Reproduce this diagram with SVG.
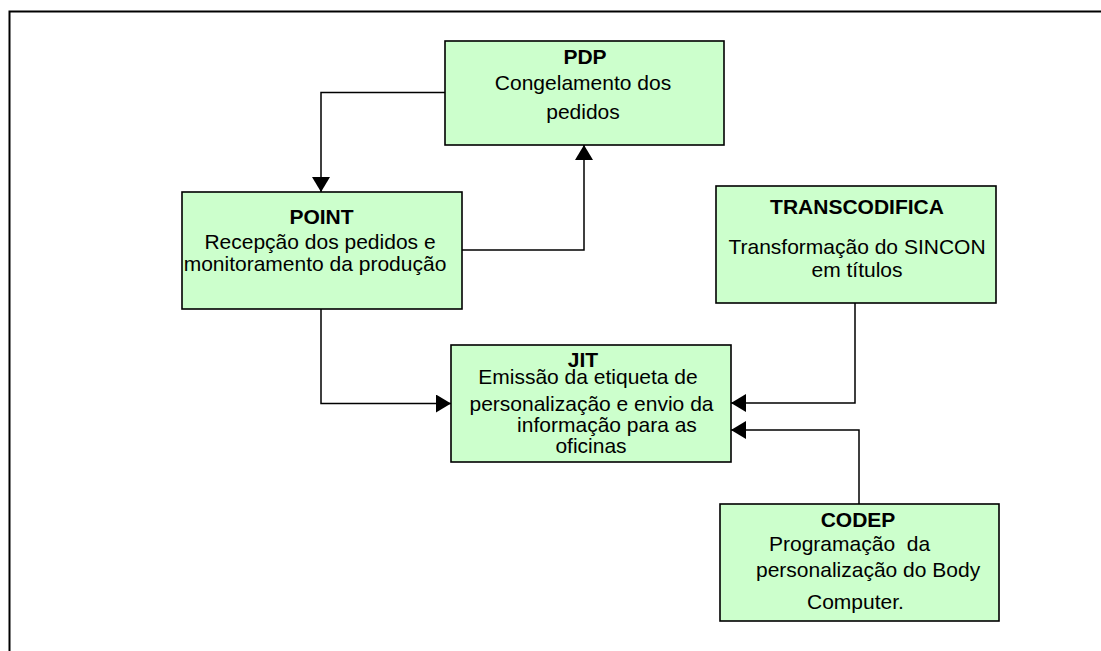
<svg xmlns="http://www.w3.org/2000/svg" width="1101" height="651" viewBox="0 0 1101 651">
  <style>
    .box { fill: #ccffcc; stroke: #000; stroke-width: 1.6; }
    .t { font-family: "Liberation Sans", Arial, sans-serif; font-size: 21px; fill: #000; }
    .h { font-weight: bold; }
    .wire { fill: none; stroke: #000; stroke-width: 1.5; }
    .frame { fill: none; stroke: #000; stroke-width: 2; }
  </style>
  <defs>
    <marker id="arrow" viewBox="0 0 15 18" refX="15" refY="9" markerWidth="15" markerHeight="18" markerUnits="userSpaceOnUse" orient="auto">
      <path d="M0,0 L15,9 L0,18 Z" fill="#000"/>
    </marker>
  </defs>
  <rect width="1101" height="651" fill="#fff"/>

  <!-- page frame, open on the right and bottom -->
  <path class="frame" d="M9.5,651 V11.5 H1101"/>

  <g id="connectors">
    <path class="wire" d="M445,92.5 H321 V192" marker-end="url(#arrow)"/>
    <path class="wire" d="M462,250 H584 V145" marker-end="url(#arrow)"/>
    <path class="wire" d="M321,309 V403.5 H451" marker-end="url(#arrow)"/>
    <path class="wire" d="M855,303 V403 H731" marker-end="url(#arrow)"/>
    <path class="wire" d="M859,504 V430 H731" marker-end="url(#arrow)"/>
  </g>

  <g id="pdp">
    <rect class="box" x="445" y="41" width="279" height="104"/>
    <text class="t h" x="585" y="64" text-anchor="middle">PDP</text>
    <text class="t" x="583" y="90" text-anchor="middle">Congelamento dos</text>
    <text class="t" x="583" y="119" text-anchor="middle">pedidos</text>
  </g>

  <g id="point">
    <rect class="box" x="182" y="192" width="280" height="117"/>
    <text class="t h" x="321.5" y="224" text-anchor="middle">POINT</text>
    <text class="t" x="320" y="249" text-anchor="middle">Recepção dos pedidos e</text>
    <text class="t" x="315" y="271" text-anchor="middle">monitoramento da produção</text>
  </g>

  <g id="transcodifica">
    <rect class="box" x="716" y="186" width="280" height="117"/>
    <text class="t h" x="857" y="214" text-anchor="middle">TRANSCODIFICA</text>
    <text class="t" x="857" y="254" text-anchor="middle">Transformação do SINCON</text>
    <text class="t" x="857" y="277" text-anchor="middle">em títulos</text>
  </g>

  <g id="jit">
    <rect class="box" x="451" y="345" width="280" height="117"/>
    <text class="t h" x="583" y="367" text-anchor="middle">JIT</text>
    <text class="t" x="588" y="384" text-anchor="middle">Emissão da etiqueta de</text>
    <text class="t" x="591.5" y="411" text-anchor="middle">personalização e envio da</text>
    <text class="t" x="607" y="432" text-anchor="middle">informação para as</text>
    <text class="t" x="591" y="453" text-anchor="middle">oficinas</text>
  </g>

  <g id="codep">
    <rect class="box" x="720" y="504" width="279" height="117"/>
    <text class="t h" x="858" y="527" text-anchor="middle">CODEP</text>
    <text class="t" x="769" y="551" xml:space="preserve">Programação  da</text>
    <text class="t" x="756" y="577">personalização do Body</text>
    <text class="t" x="807" y="609">Computer.</text>
  </g>
</svg>
